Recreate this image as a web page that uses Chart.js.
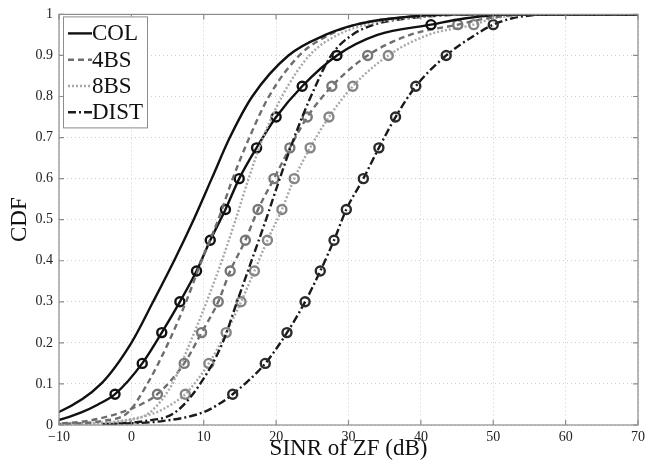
<!DOCTYPE html>
<html>
<head>
<meta charset="utf-8">
<script src="https://cdn.jsdelivr.net/npm/chart.js@4.4.0/dist/chart.umd.min.js"></script>
<style>
  html, body { margin: 0; padding: 0; background: #fff; }
  #wrap { width: 662px; height: 466px; }
</style>
</head>
<body>
<div id="wrap"><canvas id="c" width="662" height="466"></canvas></div>
<script>
// CDF levels of the plain curves, and the SINR (dB) read at each level
const plainLevels = [0.002, 0.01, 0.03, 0.1, 0.2, 0.3, 0.4, 0.5, 0.6, 0.7, 0.8, 0.9, 0.95, 0.975, 0.99, 1, 1];
const colX  = [-22, -15, -10.2, -4.2, 0, 3.0, 5.9, 8.6, 11.1, 13.6, 16.7, 21.7, 26.8, 31, 36, 45, 70];
const bs4X  = [-10.5, -4, -0.5, 2.2, 5.1, 7.55, 9.7, 12.0, 14.0, 16.3, 19.0, 23.2, 27.3, 31, 36, 46, 70];
const bs8X  = [-7, -1, 2.5, 5.65, 8.1, 10.4, 12.5, 14.4, 16.2, 18.2, 20.8, 24.6, 28.5, 32.5, 37.5, 47, 70];
const distX = [-4, 2, 6, 9.5, 12.6, 14.6, 16.6, 18.6, 20.5, 22.5, 24.8, 27.6, 30.5, 33.5, 38, 48, 70];

// levels of the curves with circle markers (markers sit on the multiples of 0.075)
const markLevels = [0.002, 0.01, 0.03, 0.05, 0.075, 0.15, 0.225, 0.3, 0.375, 0.45, 0.525, 0.6, 0.675, 0.75, 0.825, 0.9, 0.95, 0.975, 0.99, 1, 1];
const colMarkX  = [-14, -10.5, -7, -4.6, -2.26, 1.5, 4.2, 6.7, 9.0, 10.9, 13.0, 14.9, 17.3, 20.0, 23.6, 28.4, 34, 41.4, 46, 53, 70];
const bs4MarkX  = [-11, -6, -1.5, 1.3, 3.6, 7.3, 9.7, 12.0, 13.65, 15.75, 17.5, 19.7, 21.9, 24.3, 27.7, 32.65, 38.5, 45.1, 49, 55, 70];
const bs8MarkX  = [-8, -1.5, 3.3, 5.5, 7.45, 10.7, 13.1, 15.15, 17.0, 18.8, 20.8, 22.5, 24.7, 27.3, 30.6, 35.5, 41, 47.3, 50, 56, 70];
const distMarkX = [-3, 4.5, 9.8, 12.0, 14.0, 18.5, 21.5, 24.0, 26.1, 28.0, 29.7, 32.05, 34.2, 36.5, 39.3, 43.5, 47.5, 50.0, 52.5, 58, 70];

const xTicks = [-10, 0, 10, 20, 30, 40, 50, 60, 70];
const yTicks = [0, 0.1, 0.2, 0.3, 0.4, 0.5, 0.6, 0.7, 0.8, 0.9, 1];
const legendNames = ['COL', '4BS', '8BS', 'DIST'];

const styles = [
  { color: '#111111', dash: [], mark: '#111111' },
  { color: '#6e6e6e', dash: [6, 4], mark: '#777777' },
  { color: '#a8a8a8', dash: [2, 2], mark: '#858585' },
  { color: '#1a1a1a', dash: [8, 3, 2, 3], mark: '#2a2a2a' }
];

function isMarker(level) {
  const k = level / 0.075;
  return level > 0.07 && level < 0.98 && Math.abs(k - Math.round(k)) < 1e-6;
}

function makeSet(name, xs, levels, st, marked) {
  return {
    label: name,
    data: xs.map((x, i) => ({ x: x, y: levels[i] })),
    borderColor: st.color,
    borderDash: st.dash,
    borderWidth: 2.4,
    cubicInterpolationMode: 'monotone',
    pointRadius: ctx => (marked && isMarker(levels[ctx.dataIndex])) ? 4.5 : 0,
    pointBorderWidth: 2.4,
    pointBorderColor: st.mark,
    pointBackgroundColor: 'rgba(255,255,255,0)',
    pointHoverRadius: 0
  };
}

const datasets = [
  makeSet('COL', colX, plainLevels, styles[0], false),
  makeSet('4BS', bs4X, plainLevels, styles[1], false),
  makeSet('8BS', bs8X, plainLevels, styles[2], false),
  makeSet('DIST', distX, plainLevels, styles[3], false),
  makeSet('COL o', colMarkX, markLevels, styles[0], true),
  makeSet('4BS o', bs4MarkX, markLevels, styles[1], true),
  makeSet('8BS o', bs8MarkX, markLevels, styles[2], true),
  makeSet('DIST o', distMarkX, markLevels, styles[3], true)
];

// box round the plot with small inward ticks, like matlab
const frame = {
  id: 'frame',
  afterDatasetsDraw(chart) {
    const ctx = chart.ctx, a = chart.chartArea;
    const sx = chart.scales.x, sy = chart.scales.y;
    ctx.save();
    ctx.strokeStyle = '#8c8c8c';
    ctx.lineWidth = 1.2;
    ctx.strokeRect(a.left, a.top, a.right - a.left, a.bottom - a.top);
    ctx.beginPath();
    xTicks.forEach(v => {
      const p = sx.getPixelForValue(v);
      ctx.moveTo(p, a.bottom); ctx.lineTo(p, a.bottom - 5);
      ctx.moveTo(p, a.top); ctx.lineTo(p, a.top + 5);
    });
    yTicks.forEach(v => {
      const p = sy.getPixelForValue(v);
      ctx.moveTo(a.left, p); ctx.lineTo(a.left + 5, p);
      ctx.moveTo(a.right, p); ctx.lineTo(a.right - 5, p);
    });
    ctx.stroke();

    // legend box top left
    const x0 = a.left + 4, y0 = a.top + 2, w = 84, h = 111;
    ctx.fillStyle = '#fff';
    ctx.fillRect(x0, y0, w, h);
    ctx.strokeStyle = '#8c8c8c';
    ctx.lineWidth = 1;
    ctx.strokeRect(x0 + 0.5, y0 + 0.5, w, h);
    ctx.font = '23px "Liberation Serif", serif';
    ctx.textBaseline = 'middle';
    legendNames.forEach((n, i) => {
      const y = y0 + 17 + i * 26.3;
      ctx.setLineDash(styles[i].dash);
      ctx.strokeStyle = styles[i].color;
      ctx.lineWidth = 2.4;
      ctx.beginPath();
      ctx.moveTo(x0 + 5, y); ctx.lineTo(x0 + 29, y);
      ctx.stroke();
      ctx.setLineDash([]);
      ctx.fillStyle = '#111';
      ctx.fillText(n, x0 + 29, y + 1);
    });
    ctx.restore();
  }
};

new Chart(document.getElementById('c'), {
  type: 'line',
  data: { datasets: datasets },
  plugins: [frame],
  options: {
    responsive: false,
    animation: false,
    events: [],
    layout: { padding: { top: 13, right: 24, left: 0, bottom: 0 } },
    plugins: { legend: { display: false }, tooltip: { enabled: false } },
    scales: {
      x: {
        type: 'linear',
        min: -10,
        max: 70,
        afterFit: s => { s.height = 41; },
        afterBuildTicks: s => { s.ticks = xTicks.map(v => ({ value: v })); },
        grid: { color: '#cccccc', lineWidth: 1, drawTicks: false },
        border: { display: false, dash: [1, 3] },
        ticks: {
          padding: 4,
          color: '#222',
          font: { family: '"Liberation Serif", serif', size: 14 },
          callback: v => String(v).replace('-', '\u2212')
        },
        title: {
          display: true,
          text: 'SINR of ZF (dB)',
          color: '#111',
          font: { family: '"Liberation Serif", serif', size: 23 },
          padding: { top: 0, bottom: 3 }
        }
      },
      y: {
        min: 0,
        max: 1,
        afterFit: s => { s.width = 59; },
        afterBuildTicks: s => { s.ticks = yTicks.map(v => ({ value: v })); },
        grid: { color: '#cccccc', lineWidth: 1, drawTicks: false },
        border: { display: false, dash: [1, 3] },
        ticks: {
          padding: 6,
          color: '#222',
          font: { family: '"Liberation Serif", serif', size: 14 },
          callback: v => String(v)
        },
        title: {
          display: true,
          text: 'CDF',
          color: '#111',
          font: { family: '"Liberation Serif", serif', size: 23 },
          padding: { top: 6, bottom: 2 }
        }
      }
    }
  }
});
</script>
</body>
</html>
